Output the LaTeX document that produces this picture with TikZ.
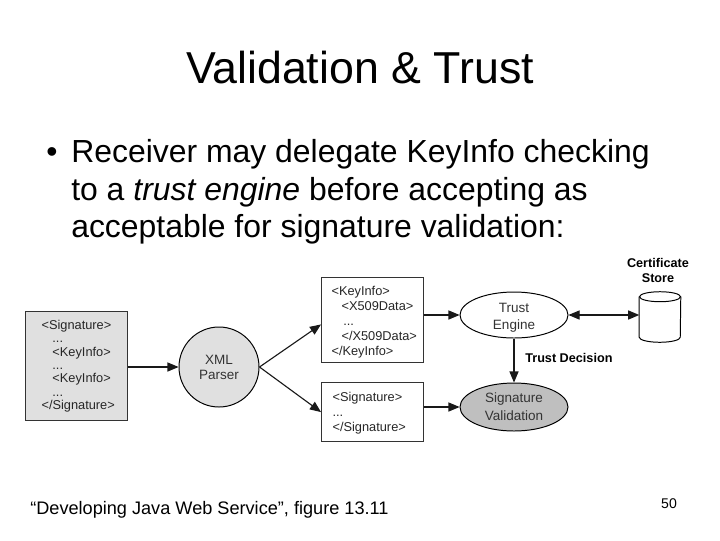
\documentclass[tikz,border=0pt]{standalone}
\usepackage{fontspec}
\setmainfont{Liberation Sans}
\usetikzlibrary{shapes,arrows,positioning}
\tikzstyle{box} = [rectangle, draw, line width=0.8pt, black!80, text=black!85, align=left, anchor=north west, inner sep=0pt, text width=102*0.025cm, font=\fontsize{9.1}{10.8}\selectfont]
\tikzstyle{round} = [ellipse, draw, line width=0.7pt, align=center, inner sep=0pt, text=black!80, font=\fontsize{9.6}{12.6}\selectfont]
\tikzstyle{line} = [draw, line width=0.8pt, black!90, -triangle 45]
\tikzstyle{bold} = [align=center, inner sep=0pt, font=\fontsize{9}{10.7}\selectfont\bfseries]
\tikzstyle{drum} = [draw, line width=0.7pt]
\begin{document}
\begin{tikzpicture}[x=0.025cm, y=-0.025cm]
			\useasboundingbox (0,0) rectangle (720,540);
			\node [inner sep=0pt, font=\fontsize{31.8}{36}\selectfont] (title) at (360, 68) {Validation \& Trust};
			\node [inner sep=0pt, font=\fontsize{22.7}{28}\selectfont] (bullet) at (52, 155) {•};
			\node [inner sep=0pt, anchor=north west, align=left, font=\fontsize{22.7}{26.8}\selectfont] (body) at (71, 139) {Receiver may delegate KeyInfo checking\\to a \textit{trust engine} before accepting as\\acceptable for signature validation:};
			\node [box, fill=black!12, minimum height=109*0.025cm, font=\fontsize{9.1}{9.5}\selectfont] (sig) at (25, 311) {\hspace*{1.25em}<Signature>\\\hspace*{2.1em}...\\\hspace*{2.1em}<KeyInfo>\\\hspace*{2.1em}...\\\hspace*{2.1em}<KeyInfo>\\\hspace*{2.1em}...\\\hspace*{1.25em}</Signature>};
			\node [round, circle, fill=black!12, minimum size=80*0.025cm, font=\fontsize{9.6}{10.7}\selectfont] (parser) at (219, 367) {XML\\Parser};
			\node [box, minimum height=85*0.025cm] (keyinfo) at (321, 277) {\rule{0pt}{9.5pt}\hspace*{0.78em}<KeyInfo>\\\hspace*{1.56em}<X509Data>\\\hspace*{1.7em}...\\\hspace*{1.56em}</X509Data>\\\hspace*{0.78em}</KeyInfo>};
			\node [box, minimum height=59*0.025cm] (sigdata) at (321, 382) {\rule{0pt}{8.5pt}\hspace*{0.86em}<Signature>\\\hspace*{0.86em}...\\\hspace*{0.86em}</Signature>};
			\node [round, minimum width=108*0.025cm, minimum height=46*0.025cm] (engine) at (514, 315) {\raisebox{-1.8pt}{Trust}\\\raisebox{-1.8pt}[7pt][0pt]{Engine}};
			\node [round, fill=black!25, minimum width=108*0.025cm, minimum height=48*0.025cm] (valid) at (514, 407) {Signature\\Validation};
			\node [inner sep=0pt, minimum width=41*0.025cm, minimum height=50*0.025cm] (store) at (660, 317) {};
			\node [bold] (storelabel) at (658, 270.5) {Certificate\\Store};
			\node [bold, anchor=west] (decision) at (525, 358) {Trust Decision};
			\node [inner sep=0pt, anchor=west, font=\fontsize{12.9}{16}\selectfont] (source) at (30, 510) {“Developing Java Web Service”, figure 13.11};
			\node [inner sep=0pt, font=\fontsize{10}{12}\selectfont] (page) at (669, 504) {50};

			\path [drum] ([yshift=-0.125cm]store.north) ellipse [x radius=0.5125cm, y radius=0.125cm];
			\path [drum] ([yshift=-0.125cm]store.north west) -- ([yshift=0.125cm]store.south west) arc [start angle=180, end angle=360, x radius=0.5125cm, y radius=0.125cm] -- ([yshift=-0.125cm]store.north east);

			\path [line] (sig.east |- parser.west) -- (parser.west);
			\path [line] (parser.east) -- ([yshift=-0.11cm]keyinfo.west);
			\path [line] (parser.east) -- (sigdata.west);
			\path [line] (keyinfo.east |- engine.west) -- (engine.west);
			\path [line] (sigdata.east |- valid.west) -- (valid.west);
			\path [line, triangle 45-triangle 45] (engine.east) -- (store.west |- engine.east);
			\path [line] (engine.south) -- (valid.north);
		\end{tikzpicture}
\end{document}
